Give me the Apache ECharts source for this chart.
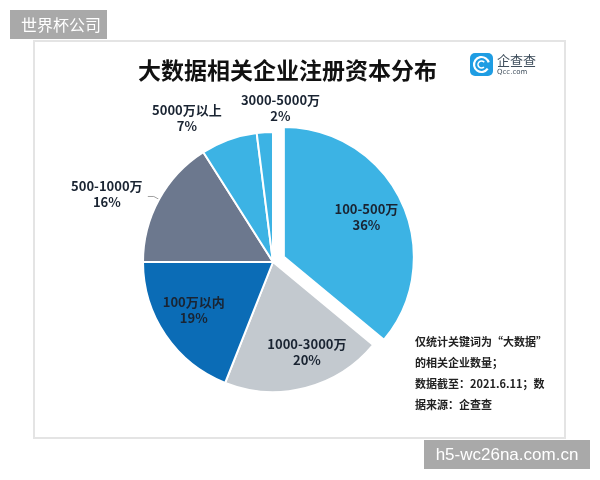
<!DOCTYPE html>
<html>
<head>
<meta charset="utf-8">
<script src="https://cdn.jsdelivr.net/npm/echarts@6/dist/echarts.min.js"></script>
<style>
  html, body { margin: 0; padding: 0; background: #fff; }
  #chart { width: 600px; height: 480px; }
</style>
</head>
<body>
<div id="chart"></div>
<script>
// data, clockwise from 12 o'clock
const categories = ["100-500万", "1000-3000万", "100万以内", "500-1000万", "5000万以上", "3000-5000万"];
const shares = [36, 20, 19, 16, 7, 2];
const sliceColors = ["#3cb3e4", "#c3c9cf", "#0b6cb6", "#6c788e", "#3cb3e4", "#3cb3e4"];
const labelPlace = ["inside", "inside", "inside", "outside", "outside", "outside"];
// small label nudges (px) from the default spot
const labelNudge = [[21, -11], [17, 24], [-23, 10], [-36, -2], [-29, -16], [27, -18]];
const noteLines = ["仅统计关键词为“大数据”", "的相关企业数量；", "数据截至：2021.6.11；数", "据来源：企查查"];

const CJK = '"Noto Sans CJK SC", "Noto Sans", sans-serif';

const chart = echarts.init(document.getElementById("chart"));

const pieData = categories.map((name, i) => ({
  name,
  value: shares[i],
  selected: i === 0,
  itemStyle: { color: sliceColors[i] },
  label: { position: labelPlace[i] },
  labelLine: { show: i === 3 }
}));

const option = {
  animation: false,
  title: {
    text: "大数据相关企业注册资本分布",
    left: 133,
    top: 54,
    textStyle: { fontFamily: CJK, fontSize: 23, fontWeight: "bold", color: "#111" }
  },
  graphic: [
    // card border
    { type: "rect", shape: { x: 34, y: 41, width: 531, height: 397 }, style: { fill: "none", stroke: "#e4e4e4", lineWidth: 2 } },
    // top-left tag
    { type: "rect", shape: { x: 10, y: 10, width: 97, height: 29 }, style: { fill: "#a9a9a9" } },
    { type: "text", x: 21, y: 25, style: { text: "世界杯公司", fill: "#fff", font: "16px " + CJK, verticalAlign: "middle" } },
    // bottom-right tag
    { type: "rect", shape: { x: 424, y: 440, width: 166, height: 29 }, style: { fill: "#a9a9a9" } },
    { type: "text", x: 507, y: 455, style: { text: "h5-wc26na.com.cn", fill: "#fff", font: '17px "Liberation Sans", Arial, sans-serif', align: "center", verticalAlign: "middle" } },
    // logo
    { type: "rect", shape: { x: 470, y: 53, width: 23, height: 23, r: 5 }, style: { fill: "#1f9de3" } },
    { type: "arc", shape: { cx: 481.5, cy: 64.5, r: 7.5, startAngle: 0.6, endAngle: 6.0 }, style: { stroke: "#fff", lineWidth: 2.2, fill: "none" } },
    { type: "arc", shape: { cx: 481.5, cy: 64.5, r: 3.5, startAngle: 0.8, endAngle: 5.6 }, style: { stroke: "#fff", lineWidth: 1.6, fill: "none" } },
    { type: "text", x: 497, y: 60, style: { text: "企查查", fill: "#3f4e5c", font: "13px " + CJK, verticalAlign: "middle" } },
    { type: "text", x: 497, y: 72, style: { text: "Qcc.com", fill: "#3f4e5c", font: '7px "DejaVu Sans", sans-serif', verticalAlign: "middle" } },
    // footnote
    {
      type: "text",
      x: 415,
      y: 331,
      style: {
        text: noteLines.join("\n"),
        fill: "#222",
        font: "bold 11px " + CJK,
        lineHeight: 21
      }
    }
  ],
  series: [
    {
      type: "pie",
      center: [273, 262],
      radius: [0, 130],
      startAngle: 90,
      clockwise: true,
      selectedMode: "single",
      selectedOffset: 12,
      avoidLabelOverlap: false,
      itemStyle: { borderColor: "#fff", borderWidth: 2 },
      label: {
        formatter: (p) => `${p.name}\n${p.value}%`,
        fontFamily: CJK,
        fontSize: 13,
        fontWeight: "bold",
        color: "#1a2432",
        lineHeight: 16,
        distanceToLabelLine: 5
      },
      labelLine: { length: 6, length2: 6, lineStyle: { color: "#a0a0a0", width: 1 } },
      labelLayout: (params) => {
        const n = labelNudge[params.dataIndex];
        return { align: "center", dx: n[0], dy: n[1] };
      },
      emphasis: { disabled: true },
      data: pieData
    }
  ]
};

chart.setOption(option);
</script>
</body>
</html>
